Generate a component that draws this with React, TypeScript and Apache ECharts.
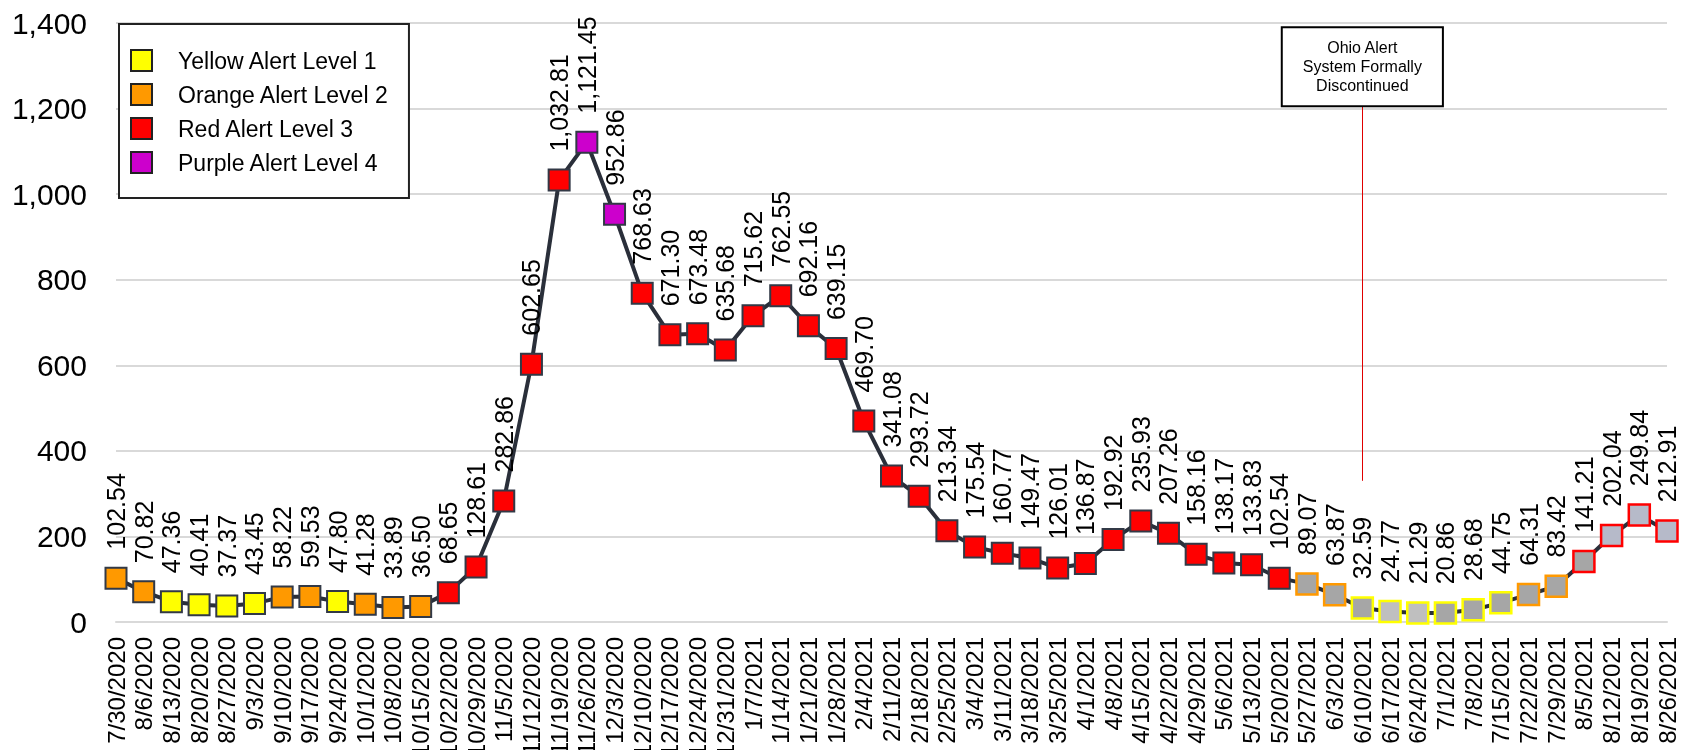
import React, { useEffect, useRef } from "react";
import * as echarts from "echarts";

const dates = [
  "7/30/2020", "8/6/2020", "8/13/2020", "8/20/2020", "8/27/2020", "9/3/2020", "9/10/2020", "9/17/2020",
  "9/24/2020", "10/1/2020", "10/8/2020", "10/15/2020", "10/22/2020", "10/29/2020", "11/5/2020", "11/12/2020",
  "11/19/2020", "11/26/2020", "12/3/2020", "12/10/2020", "12/17/2020", "12/24/2020", "12/31/2020", "1/7/2021",
  "1/14/2021", "1/21/2021", "1/28/2021", "2/4/2021", "2/11/2021", "2/18/2021", "2/25/2021", "3/4/2021",
  "3/11/2021", "3/18/2021", "3/25/2021", "4/1/2021", "4/8/2021", "4/15/2021", "4/22/2021", "4/29/2021",
  "5/6/2021", "5/13/2021", "5/20/2021", "5/27/2021", "6/3/2021", "6/10/2021", "6/17/2021", "6/24/2021",
  "7/1/2021", "7/8/2021", "7/15/2021", "7/22/2021", "7/29/2021", "8/5/2021", "8/12/2021", "8/19/2021",
  "8/26/2021",
];

const values = [
  102.54, 70.82, 47.36, 40.41, 37.37, 43.45, 58.22, 59.53,
  47.8, 41.28, 33.89, 36.5, 68.65, 128.61, 282.86, 602.65,
  1032.81, 1121.45, 952.86, 768.63, 671.3, 673.48, 635.68, 715.62,
  762.55, 692.16, 639.15, 469.7, 341.08, 293.72, 213.34, 175.54,
  160.77, 149.47, 126.01, 136.87, 192.92, 235.93, 207.26, 158.16,
  138.17, 133.83, 102.54, 89.07, 63.87, 32.59, 24.77, 21.29,
  20.86, 28.68, 44.75, 64.31, 83.42, 141.21, 202.04, 249.84,
  212.91,
];

// alert level of each week: 1 yellow, 2 orange, 3 red, 4 purple
const levels = [
  2, 2, 1, 1, 1, 1, 2, 2,
  1, 2, 2, 2, 3, 3, 3, 3,
  3, 4, 4, 3, 3, 3, 3, 3,
  3, 3, 3, 3, 3, 3, 3, 3,
  3, 3, 3, 3, 3, 3, 3, 3,
  3, 3, 3, 2, 2, 1, 1, 1,
  1, 1, 1, 2, 2, 3, 3, 3,
  3,
];

const levelNames = ["Yellow Alert Level 1", "Orange Alert Level 2", "Red Alert Level 3", "Purple Alert Level 4"];
const discontinuedDate = "6/10/2021";
const firstUnofficialDate = "5/27/2021";
const annotationLow = 330;
const annotationHigh = 1208;
const annotationText = "Ohio Alert\nSystem Formally\nDiscontinued";

const levelColors = ["#ffff00", "#ff9900", "#ff0000", "#cc00cc"];
const unofficialFill: Record<string, string> = {
  "6/17/2021": "#bfbfbf",
  "6/24/2021": "#bfbfbf",
  "8/12/2021": "#b6bac9",
  "8/19/2021": "#b6bac9",
  "8/26/2021": "#b6bac9",
};
const FONT = "Liberation Sans, Arial, sans-serif";

export default function App() {
  const ref = useRef<HTMLDivElement>(null);
  useEffect(() => {
    if (!ref.current) return;
    const chart = echarts.init(ref.current, undefined, { renderer: "svg" });
    const firstUnofficial = dates.indexOf(firstUnofficialDate);
    const pointData = values.map((v, i) => {
      const c = levelColors[levels[i] - 1];
      if (i >= firstUnofficial) {
        return {
          value: v,
          itemStyle: { color: unofficialFill[dates[i]] || "#a6a6a6", borderColor: c, borderWidth: 2.5, opacity: 1 },
        };
      }
      return { value: v, itemStyle: { color: c, borderColor: "#323946", borderWidth: 2, opacity: 1 } };
    });
    const fmt = (n: number) =>
      n.toLocaleString("en-US", { minimumFractionDigits: 2, maximumFractionDigits: 2 });

    chart.setOption({
      animation: false,
      textStyle: { fontFamily: FONT },
      grid: { left: 116, right: 20, top: 23, bottom: 128, containLabel: false, outerBoundsMode: "none" },
      legend: {
        data: levelNames,
        orient: "vertical",
        left: 119,
        top: 24,
        icon: "rect",
        itemWidth: 21,
        itemHeight: 21,
        itemGap: 11,
        padding: [25, 20, 24, 11],
        borderColor: "#222",
        borderWidth: 2,
        backgroundColor: "#fff",
        itemStyle: { borderColor: "#222", borderWidth: 2, opacity: 1 },
        textStyle: { fontSize: 23, color: "#000", fontFamily: FONT, padding: [0, 0, 0, 21], lineHeight: 21 },
        selectedMode: false,
      },
      xAxis: {
        type: "category",
        data: dates,
        boundaryGap: false,
        axisLine: { show: true, lineStyle: { color: "#d9d9d9", width: 2 } },
        axisTick: { show: false },
        axisLabel: { rotate: 90, interval: 0, fontSize: 24, color: "#000", margin: 15, fontFamily: FONT },
      },
      yAxis: {
        type: "value",
        min: 0,
        max: 1400,
        interval: 200,
        axisLine: { show: false },
        axisTick: { show: false },
        splitLine: { lineStyle: { color: "#d9d9d9", width: 2 } },
        axisLabel: {
          fontSize: 30,
          color: "#000",
          margin: 29,
          fontFamily: FONT,
          formatter: (v: number) => v.toLocaleString("en-US"),
        },
      },
      series: [
        {
          name: "Rate",
          type: "line",
          data: pointData,
          symbol: "rect",
          symbolSize: 21,
          lineStyle: { color: "#2a2f3a", width: 4 },
          label: {
            show: true,
            position: "top",
            distance: 17,
            rotate: 90,
            align: "left",
            verticalAlign: "middle",
            fontSize: 25,
            color: "#000",
            fontFamily: FONT,
            formatter: (p: any) => fmt(p.value),
          },
          markLine: {
            silent: true,
            symbol: "none",
            lineStyle: { color: "#e00000", width: 1, type: "solid" },
            label: {
              show: true,
              position: "end",
              distance: 0,
              formatter: annotationText,
              fontSize: 16,
              lineHeight: 19,
              color: "#000",
              fontFamily: FONT,
              backgroundColor: "#fff",
              borderColor: "#000",
              borderWidth: 2,
              padding: [10, 20, 10, 20],
            },
            data: [
              [
                { coord: [discontinuedDate, annotationLow] },
                { coord: [discontinuedDate, annotationHigh] },
              ],
            ],
          },
          z: 3,
        },
        ...levelNames.map((n, i) => ({
          name: n,
          type: "scatter",
          data: [],
          itemStyle: { color: levelColors[i], borderColor: "#222", borderWidth: 2, opacity: 1 },
        })),
      ],
    });
    return () => chart.dispose();
  }, []);
  return <div ref={ref} style={{ position: "fixed", left: 0, top: 0, width: 1687, height: 750 }} />;
}
